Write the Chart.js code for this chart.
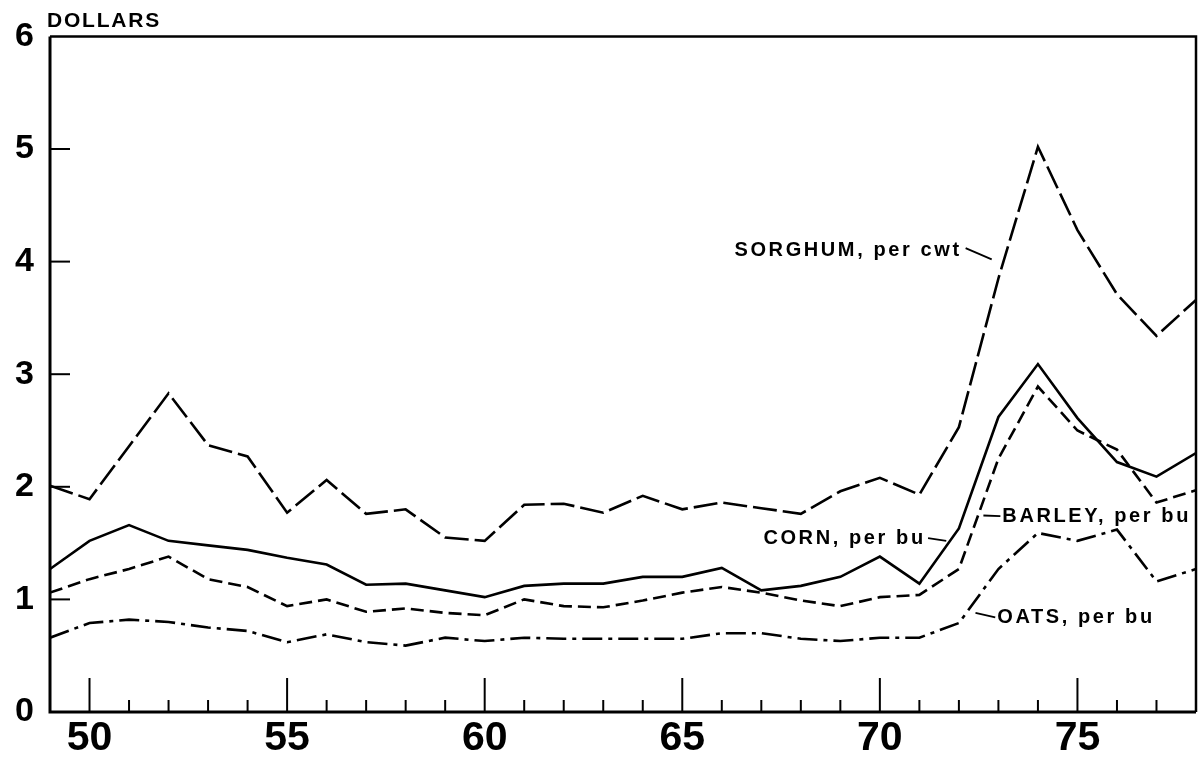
<!DOCTYPE html>
<html>
<head>
<meta charset="utf-8">
<script src="https://cdn.jsdelivr.net/npm/chart.js@4/dist/chart.umd.min.js"></script>
<style>
  body { margin: 0; background: #fff; }
  canvas { display: block; }
</style>
</head>
<body>
<canvas id="grainChart" width="1198" height="760"></canvas>
<script>
// Years 1949-1978 (shown as two-digit years)
const years = [49, 50, 51, 52, 53, 54, 55, 56, 57, 58, 59, 60, 61, 62, 63,
               64, 65, 66, 67, 68, 69, 70, 71, 72, 73, 74, 75, 76, 77, 78];

// Prices in dollars
const sorghum = [2.01, 1.89, 2.36, 2.83, 2.37, 2.27, 1.77, 2.06, 1.76, 1.80, 1.55, 1.52, 1.84, 1.85, 1.77,
                 1.92, 1.80, 1.86, 1.81, 1.76, 1.96, 2.08, 1.93, 2.53, 3.85, 5.02, 4.28, 3.71, 3.34, 3.66];
const corn    = [1.27, 1.52, 1.66, 1.52, 1.48, 1.44, 1.37, 1.31, 1.13, 1.14, 1.08, 1.02, 1.12, 1.14, 1.14,
                 1.20, 1.20, 1.28, 1.08, 1.12, 1.20, 1.38, 1.14, 1.63, 2.62, 3.09, 2.61, 2.22, 2.09, 2.30];
const barley  = [1.06, 1.18, 1.27, 1.38, 1.18, 1.11, 0.94, 1.00, 0.89, 0.92, 0.88, 0.86, 1.00, 0.94, 0.93,
                 0.99, 1.06, 1.11, 1.06, 0.99, 0.94, 1.02, 1.04, 1.27, 2.25, 2.89, 2.50, 2.33, 1.86, 1.97];
const oats    = [0.66, 0.79, 0.82, 0.80, 0.75, 0.72, 0.62, 0.69, 0.62, 0.59, 0.66, 0.63, 0.66, 0.65, 0.65,
                 0.65, 0.65, 0.70, 0.70, 0.65, 0.63, 0.66, 0.66, 0.79, 1.27, 1.59, 1.52, 1.62, 1.16, 1.27];

// Axis labels
const xTickLabels = [50, 55, 60, 65, 70, 75];
const yTickLabels = [0, 1, 2, 3, 4, 5, 6];

// Series labels, placed in data units, with a short leader line
const seriesLabels = [
    { text: 'SORGHUM, per cwt', x: 72.07, y: 4.10, align: 'right', leader: [72.17, 4.12, 72.83, 4.02] },
    { text: 'CORN, per bu',     x: 71.16, y: 1.545, align: 'right', leader: [71.22, 1.545, 71.68, 1.52] },
    { text: 'BARLEY, per bu',   x: 73.10, y: 1.74, align: 'left',  leader: [72.62, 1.745, 73.05, 1.74] },
    { text: 'OATS, per bu',     x: 72.97, y: 0.84, align: 'left',  leader: [72.42, 0.88, 72.92, 0.84] }
];

function toPoints(values) {
    return years.map((yr, i) => ({ x: yr, y: values[i] }));
}

function lineSet(label, values, dash) {
    return {
        label: label,
        data: toPoints(values),
        borderColor: '#000',
        borderWidth: 2.6,
        borderDash: dash,
        pointRadius: 0,
        tension: 0,
        fill: false
    };
}

// Frame, inward ticks, series labels and the unit title
const decorations = {
    id: 'decorations',
    afterDraw(chart) {
        const ctx = chart.ctx;
        const area = chart.chartArea;
        const xs = chart.scales.x;
        const ys = chart.scales.y;
        ctx.save();
        ctx.strokeStyle = '#000';
        ctx.fillStyle = '#000';

        // frame
        ctx.lineWidth = 3;
        ctx.beginPath();
        ctx.moveTo(area.left, area.top);
        ctx.lineTo(area.left, area.bottom);
        ctx.lineTo(area.right, area.bottom);
        ctx.stroke();
        ctx.lineWidth = 2.5;
        ctx.beginPath();
        ctx.moveTo(area.left, area.top);
        ctx.lineTo(area.right, area.top);
        ctx.lineTo(area.right, area.bottom);
        ctx.stroke();

        // x ticks, one per year, taller every five years
        ctx.lineWidth = 2;
        years.forEach(yr => {
            if (yr <= years[0] || yr >= years[years.length - 1]) return;
            const px = xs.getPixelForValue(yr);
            const len = yr % 5 === 0 ? 34 : 12;
            ctx.beginPath();
            ctx.moveTo(px, area.bottom);
            ctx.lineTo(px, area.bottom - len);
            ctx.stroke();
        });

        // y ticks
        yTickLabels.forEach(v => {
            if (v <= 0 || v >= 6) return;
            const py = ys.getPixelForValue(v);
            ctx.beginPath();
            ctx.moveTo(area.left, py);
            ctx.lineTo(area.left + 20, py);
            ctx.stroke();
        });

        // series labels
        ctx.font = 'bold 20px "Liberation Sans", Arial, sans-serif';
        ctx.letterSpacing = '2.6px';
        ctx.textBaseline = 'middle';
        ctx.lineWidth = 1.8;
        seriesLabels.forEach(l => {
            ctx.textAlign = l.align;
            ctx.fillText(l.text, xs.getPixelForValue(l.x), ys.getPixelForValue(l.y));
            ctx.beginPath();
            ctx.moveTo(xs.getPixelForValue(l.leader[0]), ys.getPixelForValue(l.leader[1]));
            ctx.lineTo(xs.getPixelForValue(l.leader[2]), ys.getPixelForValue(l.leader[3]));
            ctx.stroke();
        });

        // unit title
        ctx.font = 'bold 21px "Liberation Sans", Arial, sans-serif';
        ctx.letterSpacing = '1.8px';
        ctx.textAlign = 'left';
        ctx.textBaseline = 'alphabetic';
        ctx.fillText('DOLLARS', area.left - 3, 27);
        ctx.restore();
    }
};

const ctx = document.getElementById('grainChart').getContext('2d');
const grainChart = new Chart(ctx, {
    type: 'line',
    data: {
        datasets: [
            lineSet('Sorghum', sorghum, [24, 6]),
            lineSet('Corn', corn, []),
            lineSet('Barley', barley, [13, 6]),
            lineSet('Oats', oats, [20, 6, 4, 6])
        ]
    },
    options: {
        responsive: false,
        animation: false,
        devicePixelRatio: 1,
        layout: { padding: { top: 32, right: 2, left: 0, bottom: 0 } },
        plugins: {
            legend: { display: false },
            tooltip: { enabled: false }
        },
        scales: {
            x: {
                type: 'linear',
                min: 49,
                max: 78,
                grid: { display: false, drawTicks: false },
                border: { display: false },
                afterBuildTicks: scale => {
                    scale.ticks = xTickLabels.map(v => ({ value: v }));
                },
                afterFit: scale => { scale.height = 48; },
                ticks: {
                    color: '#000',
                    padding: 2,
                    maxRotation: 0,
                    autoSkip: false,
                    font: { family: '"Liberation Sans", Arial, sans-serif', size: 41, weight: 'bold' }
                }
            },
            y: {
                min: 0,
                max: 6,
                grid: { display: false, drawTicks: false },
                border: { display: false },
                afterBuildTicks: scale => {
                    scale.ticks = yTickLabels.map(v => ({ value: v }));
                },
                afterFit: scale => { scale.width = 50; },
                ticks: {
                    color: '#000',
                    padding: 16,
                    font: { family: '"Liberation Sans", Arial, sans-serif', size: 34, weight: 'bold' }
                }
            }
        }
    },
    plugins: [decorations]
});
</script>
</body>
</html>
